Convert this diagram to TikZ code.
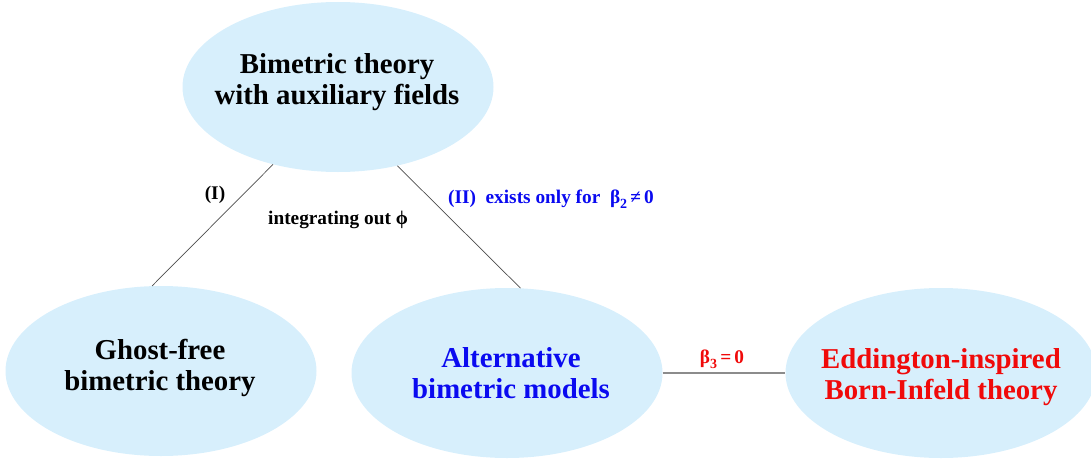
\documentclass[tikz,border=0pt]{standalone}
\usepackage{fontspec}
\setmainfont{Liberation Serif}
\usetikzlibrary{shapes.geometric}
\definecolor{bubble}{HTML}{D7EFFC}
\definecolor{myblue}{HTML}{0A0AF0}
\definecolor{myred}{HTML}{F00A0A}
\definecolor{linegray}{HTML}{8C8C8C}
\newcommand{\mysub}[1]{\raisebox{-0.28em}{\fontsize{14}{14}\selectfont #1}}
\tikzset{
  blob/.style={ellipse, fill=bubble, draw=none, inner sep=0pt,
    minimum width=311pt, minimum height=170pt},
  bigtxt/.style={font=\fontsize{28.8}{31.5}\selectfont\bfseries, align=center, inner sep=0pt},
  smalltxt/.style={font=\fontsize{19.3}{21}\selectfont\bfseries, inner sep=0pt},
  thin link/.style={draw=black!70, line width=0.7pt},
  thick link/.style={draw=linegray, line width=2.2pt}
}
\begin{document}
\begin{tikzpicture}[x=1pt,y=-1pt]
\useasboundingbox (0,0) rectangle (1091,460);
\node[blob] (top) at (338,87) {};
\node[blob] (ghost) at (161,371) {};
\node[blob] (alt) at (507,373) {};
\node[blob] (edd) at (941,373) {};

\draw[thin link] (top.230) -- (ghost.96);
\draw[thin link] (top.307) -- (alt.81);
\draw[thick link] (alt) -- (edd);

\node[bigtxt] (toptxt) at (337,82) {Bimetric theory\\with auxiliary fields};
\node[bigtxt] (ghosttxt) at (160,368) {Ghost-free\\bimetric theory};
\node[bigtxt, text=myblue] (alttxt) at (511,373) {Alternative\\bimetric models};
\node[bigtxt, text=myred] (eddtxt) at (941,377) {Eddington-inspired\\Born-Infeld theory};

\node[smalltxt, anchor=base] (lI) at (215,199) {(I)};
\node[smalltxt, anchor=base] (lint) at (338,224) {integrating out ϕ};
\node[smalltxt, anchor=base, text=myblue] (lII) at (551,203) {(II)\ \ exists only for\ \ β\mysub{2}\,≠\,0};
\node[smalltxt, anchor=base, text=myred] (lb3) at (722,363) {β\mysub{3}\,=\,0};
\end{tikzpicture}
\end{document}
